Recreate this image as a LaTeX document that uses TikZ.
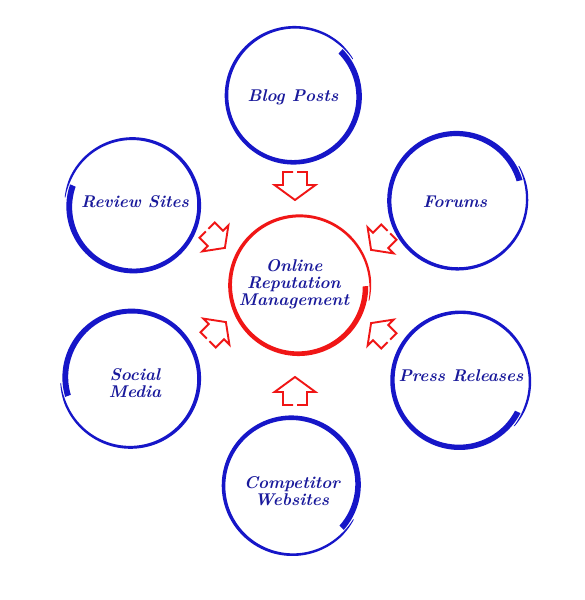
\documentclass[tikz,border=0pt]{standalone}
\usepackage{tikz}
\definecolor{ringblue}{RGB}{22,22,200}
\definecolor{txtblue}{RGB}{25,25,155}
\definecolor{ringred}{RGB}{240,22,22}
\tikzset{
  lab/.style={font=\fontsize{17}{17}\selectfont\bfseries\itshape, text=txtblue, align=center, inner sep=0pt},
  arrowline/.style={draw=ringred, line width=1.9pt, line join=miter},
}
% brush-like ring: cx, cy, R, start angle, direction (+1 ccw, -1 cw), colour, max width, min width
\newcommand{\brushring}[8]{%
  \fill[#6] plot[domain=0:1,samples=140,variable=\t]
    ({#1+(#3-2.5+5*\t+min(1,(1-\t)*14+0.35)*(#8+(#7-#8)*(1-\t))/2)*cos(#4+#5*372*\t)},
     {#2+(#3-2.5+5*\t+min(1,(1-\t)*14+0.35)*(#8+(#7-#8)*(1-\t))/2)*sin(#4+#5*372*\t)})
    -- plot[domain=1:0,samples=140,variable=\t]
    ({#1+(#3-2.5+5*\t-min(1,(1-\t)*14+0.35)*(#8+(#7-#8)*(1-\t))/2)*cos(#4+#5*372*\t)},
     {#2+(#3-2.5+5*\t-min(1,(1-\t)*14+0.35)*(#8+(#7-#8)*(1-\t))/2)*sin(#4+#5*372*\t)})
    -- cycle;}
% open block arrow: coordinate name, direction angle, scale
\newcommand{\blockarrow}[3]{%
  \draw[arrowline, shift={(#1)}, rotate=#2, scale=#3]
    (-14,2) -- (-14,12) -- (-1,12) -- (-1,20.5) -- (14,0) -- (-1,-20.5)
    -- (-1,-12) -- (-14,-12) -- (-14,-2);}
\begin{document}
\begin{tikzpicture}[x=1pt,y=1pt]
\fill[white] (0,0) rectangle (585,600);
\useasboundingbox (0,0) rectangle (585,600);

% rings
\brushring{294}{504}{67}{44}{-1}{ringblue}{6}{2}
\brushring{133}{394}{66}{161}{1}{ringblue}{6}{2}
\brushring{457}{400}{68}{17}{1}{ringblue}{6}{2}
\brushring{131}{222}{68}{196}{-1}{ringblue}{6}{2}
\brushring{460}{219}{68}{-28}{-1}{ringblue}{6}{2}
\brushring{292}{115}{68}{-41}{1}{ringblue}{6}{2}
\brushring{299}{314}{69}{0}{-1}{ringred}{5.5}{2}

% labels
\node[lab] (blog) at (293,503) {Blog Posts};
\node[lab] (review) at (135,398) {Review Sites};
\node[lab] (forums) at (455,398) {Forums};
\node[lab] (orm) at (294,316) {Online\\Reputation\\Management};
\node[lab] (social) at (135,217) {Social\\Media};
\node[lab] (press) at (461,224) {Press Releases};
\node[lab] (comp) at (292,109) {Competitor\\Websites};

% arrow positions
\coordinate (aBlog) at (295,414);
\coordinate (aComp) at (295,209);
\coordinate (aReview) at (216,361);
\coordinate (aForums) at (380,359);
\coordinate (aSocial) at (217,269);
\coordinate (aPress) at (380,268);

\blockarrow{aBlog}{-90}{1}
\blockarrow{aComp}{90}{1}
\blockarrow{aReview}{-45}{0.9}
\blockarrow{aForums}{-135}{0.9}
\blockarrow{aSocial}{45}{0.9}
\blockarrow{aPress}{135}{0.9}
\end{tikzpicture}
\end{document}
